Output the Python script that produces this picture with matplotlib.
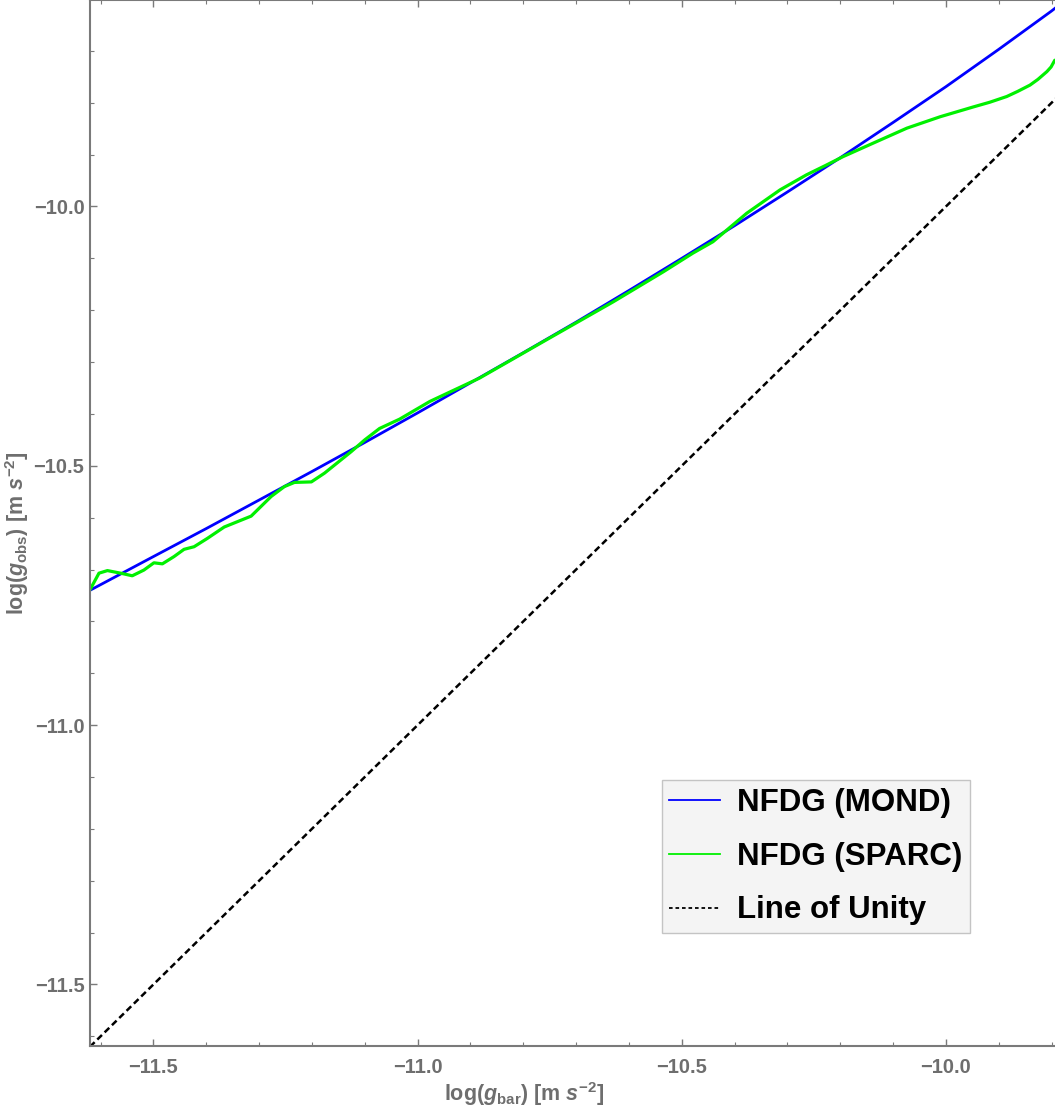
import matplotlib
matplotlib.use("Agg")
import matplotlib.pyplot as plt
from matplotlib.lines import Line2D
from matplotlib.ticker import MultipleLocator

plt.rcParams['font.family'] = ['Liberation Sans', 'DejaVu Sans']
plt.rcParams['mathtext.fontset'] = 'custom'
plt.rcParams['mathtext.rm'] = 'Liberation Sans:bold'
plt.rcParams['mathtext.it'] = 'Liberation Sans:italic:bold'
plt.rcParams['mathtext.bf'] = 'Liberation Sans:bold'

# NFDG (MOND) curve
mond_x = [-11.62, -11.5, -11.4, -11.3, -11.2, -11.1, -11.0, -10.9, -10.8, -10.7,
          -10.6, -10.5, -10.4, -10.3, -10.2, -10.1, -10.0, -9.9, -9.8, -9.79]
mond_y = [-10.740, -10.675, -10.621, -10.566, -10.511, -10.455, -10.398, -10.340,
          -10.282, -10.223, -10.162, -10.100, -10.037, -9.972, -9.906, -9.838,
          -9.769, -9.697, -9.623, -9.615]

# NFDG (SPARC) curve
sparc_x = [-11.620, -11.603, -11.587, -11.562, -11.540, -11.518, -11.499, -11.483,
           -11.461, -11.442, -11.423, -11.398, -11.366, -11.315, -11.277, -11.252,
           -11.233, -11.201, -11.176, -11.126, -11.100, -11.072, -11.034, -10.977,
           -10.883, -10.756, -10.630, -10.535, -10.479, -10.441, -10.377, -10.314,
           -10.264, -10.228, -10.195, -10.138, -10.074, -10.011, -9.948, -9.917,
           -9.885, -9.864, -9.841, -9.826, -9.809, -9.801, -9.794]
sparc_y = [-10.739, -10.707, -10.702, -10.707, -10.712, -10.701, -10.687, -10.689,
           -10.675, -10.661, -10.656, -10.640, -10.618, -10.597, -10.559, -10.540,
           -10.532, -10.531, -10.514, -10.473, -10.450, -10.428, -10.410, -10.376,
           -10.331, -10.257, -10.184, -10.126, -10.090, -10.068, -10.013, -9.968,
           -9.939, -9.921, -9.904, -9.878, -9.849, -9.827, -9.808, -9.799,
           -9.788, -9.778, -9.766, -9.755, -9.740, -9.731, -9.718]

# line of unity
unity_x = [-11.62, -9.79]
unity_y = [-11.62, -9.79]

labels = ['NFDG (MOND)', 'NFDG (SPARC)', 'Line of Unity']

fig = plt.figure(figsize=(10.55, 11.08), dpi=100)
ax = fig.add_axes([0.0853, 0.056, 0.9147, 0.944])

ax.plot(unity_x, unity_y, color='black', lw=1.8, linestyle=(0, (2.6, 1.5)))
ax.plot(mond_x, mond_y, color='#0000ff', lw=2.0)
ax.plot(sparc_x, sparc_y, color='#00f000', lw=2.3,
        solid_joinstyle='round', solid_capstyle='round')

ax.set_xlim(-11.62, -9.7936)
ax.set_ylim(-11.6185, -9.6019)

gray = '#6e6e6e'
for s in ['left', 'bottom', 'top']:
    ax.spines[s].set_color('#7a7a7a')
    ax.spines[s].set_linewidth(1.5)
ax.spines['right'].set_visible(False)

fmt = plt.FuncFormatter(lambda v, p: f'\u2212{abs(v):.1f}')
ax.xaxis.set_major_locator(MultipleLocator(0.5))
ax.xaxis.set_minor_locator(MultipleLocator(0.1))
ax.yaxis.set_major_locator(MultipleLocator(0.5))
ax.yaxis.set_minor_locator(MultipleLocator(0.1))
ax.xaxis.set_major_formatter(fmt)
ax.yaxis.set_major_formatter(fmt)
ax.tick_params(which='both', direction='in', color='#7a7a7a', top=True,
               right=False, labelcolor=gray, labelsize=14.5)
ax.tick_params(axis='x', pad=9)
ax.tick_params(axis='y', pad=4)
ax.tick_params(which='major', length=5, width=1)
ax.tick_params(which='minor', length=3, width=0.8)
for lab in ax.get_xticklabels() + ax.get_yticklabels():
    lab.set_fontweight('bold')

ax.set_xlabel(r'log($g_{\rm bar}$) [m $s^{-2}$]', color=gray, fontsize=15.5, fontweight='bold')
ax.set_ylabel(r'log($g_{\rm obs}$) [m $s^{-2}$]', color=gray, fontsize=15.5, fontweight='bold')
ax.xaxis.set_label_coords(0.45, -0.033)
ax.yaxis.set_label_coords(-0.061, 0.49)

handles = [Line2D([], [], color='#0000ff', lw=1.3),
           Line2D([], [], color='#00f000', lw=1.3),
           Line2D([], [], color='black', lw=1.3, linestyle=(0, (2.0, 1.6)))]
leg = ax.legend(handles, labels, loc='lower left', bbox_to_anchor=(0.5925, 0.108),
                borderaxespad=0, fancybox=False, framealpha=1, facecolor='#f4f4f4',
                edgecolor='#c4c4c4', handlelength=1.63, handletextpad=0.55,
                labelspacing=0.76, borderpad=0.24,
                prop={'family': 'Liberation Sans', 'weight': 'bold', 'size': 22.5})
leg.get_frame().set_linewidth(1.0)

plt.savefig('out.png', dpi=100)
